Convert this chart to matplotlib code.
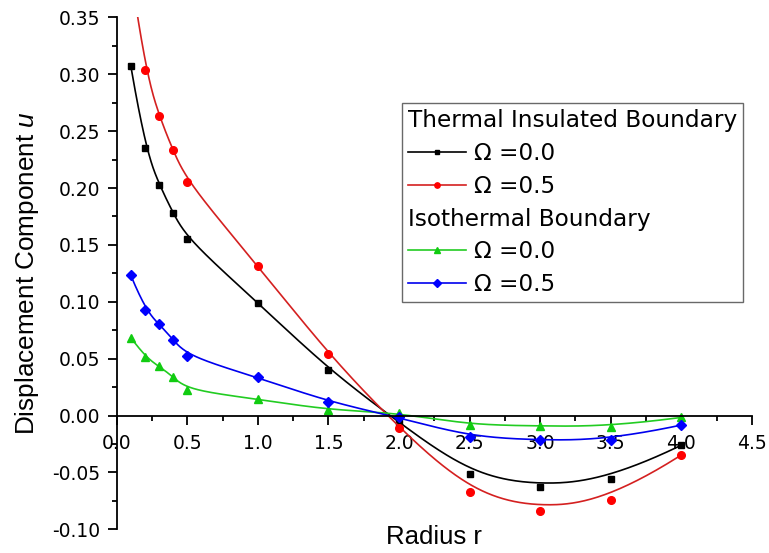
import numpy as np
import matplotlib
matplotlib.use('Agg')
import matplotlib.pyplot as plt
from matplotlib.lines import Line2D

plt.rcParams['font.family'] = ['Liberation Sans', 'DejaVu Sans']
plt.rcParams['mathtext.fontset'] = 'custom'
plt.rcParams['mathtext.it'] = 'Liberation Sans:italic'
plt.rcParams['mathtext.rm'] = 'Liberation Sans'

# radius values (same for all series)
r = [0.1, 0.2, 0.3, 0.4, 0.5, 1.0, 1.5, 2.0, 2.5, 3.0, 3.5, 4.0]

# thermal insulated boundary
ins_w00 = [0.307, 0.235, 0.203, 0.178, 0.155, 0.0993, 0.0405, -0.006,
           -0.051, -0.063, -0.056, -0.026]
ins_w05 = [0.390, 0.304, 0.263, 0.233, 0.205, 0.1318, 0.0537, -0.011,
           -0.0668, -0.0835, -0.074, -0.0346]
# isothermal boundary
iso_w00 = [0.0686, 0.0516, 0.0434, 0.034, 0.0224, 0.0145, 0.0048, 0.0025,
           -0.0083, -0.009, -0.0098, -0.0016]
iso_w05 = [0.1232, 0.0932, 0.0803, 0.0668, 0.0522, 0.0335, 0.0121, -0.0016,
           -0.0186, -0.0218, -0.0215, -0.0083]


def bspline(x, y, n=500, k=3):
    # clamped cubic B-spline with the data points as control points
    P = np.column_stack([x, y]).astype(float)
    m = len(P)
    u = np.concatenate([np.zeros(k), np.arange(m - k + 1), np.full(k, m - k)]).astype(float)
    t = np.linspace(0, m - k, n)
    N = np.zeros((n, len(u) - 1))
    for i in range(len(u) - 1):
        N[:, i] = (t >= u[i]) & (t < u[i + 1])
    N[-1, m - 1] = 1.0
    for p in range(1, k + 1):
        Nn = np.zeros((n, len(u) - 1 - p))
        for i in range(len(u) - 1 - p):
            a = u[i + p] - u[i]
            b = u[i + p + 1] - u[i + 1]
            left = (t - u[i]) / a * N[:, i] if a > 0 else 0
            right = (u[i + p + 1] - t) / b * N[:, i + 1] if b > 0 else 0
            Nn[:, i] = left + right
        N = Nn
    C = N @ P
    return C[:, 0], C[:, 1]


series = [
    (ins_w00, 'black', '#000000', 's', 5.0),
    (ins_w05, '#d42020', '#ff0000', 'o', 5.5),
    (iso_w00, '#22cc22', '#11cc11', '^', 6.0),
    (iso_w05, '#0000ee', '#0000ff', 'D', 5.5),
]

fig = plt.figure(figsize=(7.69, 5.53), dpi=100)
ax = fig.add_axes([0.1518, 0.0427, 0.826, 0.926])

handles = []
for ys, lc, mc, mk, ms in series:
    sx, sy = bspline(r, ys)
    ax.plot(sx, sy, color=lc, lw=1.2)
    ax.plot(r, ys, ls='none', marker=mk, color=mc, ms=ms, mec=mc)
    handles.append(Line2D([], [], color=lc, lw=1.2, marker=mk, mfc=mc,
                          mec=mc, ms=ms * 0.7))

ax.set_xlim(0, 4.5)
ax.set_ylim(-0.10, 0.35)
ax.set_xticks(np.arange(0, 4.51, 0.5))
ax.set_xticks(np.arange(0.25, 4.5, 0.5), minor=True)
ax.set_yticks(np.arange(-0.10, 0.351, 0.05))
ax.set_yticks(np.arange(-0.075, 0.35, 0.05), minor=True)
ax.xaxis.set_major_formatter(plt.FuncFormatter(lambda v, p: '%.1f' % v))
ax.yaxis.set_major_formatter(plt.FuncFormatter(lambda v, p: '%.2f' % v))

ax.spines['top'].set_visible(False)
ax.spines['right'].set_visible(False)
ax.spines['bottom'].set_position(('data', 0))
for s in ('left', 'bottom'):
    ax.spines[s].set_linewidth(1.3)
ax.tick_params(which='major', direction='out', length=6.5, width=1.3,
               labelsize=13.5)
ax.tick_params(which='minor', direction='out', length=3.5, width=1.3)
ax.tick_params(axis='x', pad=7.0)
ax.tick_params(axis='y', pad=5.5)
for lbl in ax.get_xticklabels() + ax.get_yticklabels():
    lbl.set_family('DejaVu Sans')

ax.set_xlabel('Radius r', fontsize=18.5)
ax.xaxis.set_label_coords(0.5, 0.009)
ax.set_ylabel('Displacement Component $u$', fontsize=18.8)
ax.yaxis.set_label_coords(-0.120, 0.50)

blank = Line2D([], [], ls='none')
leg_handles = [blank, handles[0], handles[1], blank, handles[2], handles[3]]
leg_labels = ['Thermal Insulated Boundary', '\u03a9 =0.0', '\u03a9 =0.5',
              'Isothermal Boundary', '\u03a9 =0.0', '\u03a9 =0.5']
leg = ax.legend(leg_handles, leg_labels, loc='upper left',
                bbox_to_anchor=(0.4486, 0.832), borderaxespad=0,
                prop={'family': 'DejaVu Sans', 'size': 16.7},
                frameon=True, fancybox=False,
                handlelength=2.5, handletextpad=0.35, labelspacing=0.42,
                borderpad=0.26)
leg.get_frame().set_edgecolor('#444444')
leg.get_frame().set_linewidth(1.0)

# header rows: drop the handle space so the text starts at the left edge
for vpack in leg._legend_handle_box.get_children():
    for i, hpack in enumerate(vpack.get_children()):
        if i in (0, 3):
            hpack.get_children()[0].set_width(0)
            hpack.sep = 0

fig.savefig('out.png', dpi=100)
